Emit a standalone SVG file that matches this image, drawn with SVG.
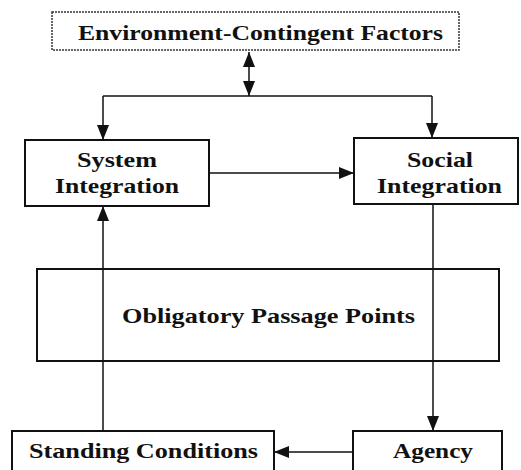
<svg xmlns="http://www.w3.org/2000/svg" width="521" height="470" viewBox="0 0 521 470">
<style>
.box{fill:#fff;stroke:#111;stroke-width:2}
.dot{fill:#fff;stroke:#333;stroke-width:1.5;stroke-dasharray:2 1}
.t{font-family:"Liberation Serif",serif;font-weight:bold;font-size:21px;fill:#111;text-anchor:middle}
.c{fill:none;stroke:#111;stroke-width:1.5}
</style>
<defs>
<marker id="ah" viewBox="0 0 15 12" refX="15" refY="6" markerWidth="15" markerHeight="12" markerUnits="userSpaceOnUse" orient="auto-start-reverse">
<path d="M0,0 L15,6 L0,12 Z" fill="#111"/>
</marker>
</defs>
<g id="opp"><rect class="box" x="37" y="269" width="462" height="92"/><text class="t" x="268.5" y="323" textLength="293" lengthAdjust="spacingAndGlyphs">Obligatory Passage Points</text></g>
<g id="connectors">
<line class="c" x1="249" y1="52" x2="249" y2="96" marker-start="url(#ah)" marker-end="url(#ah)"/>
<polyline class="c" points="103,96 432,96"/>
<line class="c" x1="103" y1="96" x2="103" y2="140" marker-end="url(#ah)"/>
<line class="c" x1="432" y1="96" x2="432" y2="138" marker-end="url(#ah)"/>
<line class="c" x1="209" y1="173" x2="354" y2="173" marker-end="url(#ah)"/>
<line class="c" x1="433" y1="204" x2="433" y2="431" marker-end="url(#ah)"/>
<line class="c" x1="353" y1="452" x2="274" y2="452" marker-end="url(#ah)"/>
<line class="c" x1="103" y1="431" x2="103" y2="206" marker-end="url(#ah)"/>
</g>
<g id="env"><rect class="dot" x="52" y="12" width="407" height="38"/><text class="t" x="260.5" y="40" textLength="365" lengthAdjust="spacingAndGlyphs">Environment-Contingent Factors</text></g>
<g id="system"><rect class="box" x="25" y="140" width="184" height="66"/><text class="t" x="117" y="167" textLength="80" lengthAdjust="spacingAndGlyphs">System</text><text class="t" x="117" y="193" textLength="124" lengthAdjust="spacingAndGlyphs">Integration</text></g>
<g id="social"><rect class="box" x="354" y="138" width="164" height="66"/><text class="t" x="440" y="167" textLength="66" lengthAdjust="spacingAndGlyphs">Social</text><text class="t" x="439.5" y="193" textLength="125" lengthAdjust="spacingAndGlyphs">Integration</text></g>
<g id="standing"><rect class="box" x="12" y="431" width="262" height="40"/><text class="t" x="143.5" y="458" textLength="229" lengthAdjust="spacingAndGlyphs">Standing Conditions</text></g>
<g id="agency"><rect class="box" x="353" y="431" width="149" height="40"/><text class="t" x="433" y="458" textLength="80" lengthAdjust="spacingAndGlyphs">Agency</text></g>
</svg>
